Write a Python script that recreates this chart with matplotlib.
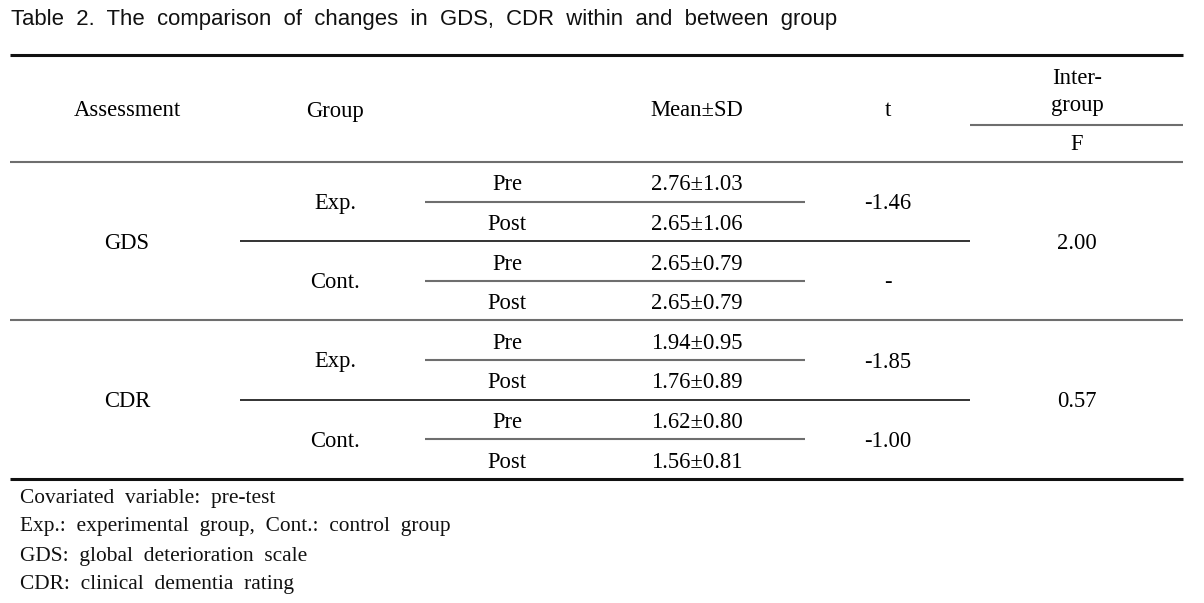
import matplotlib.pyplot as plt

# data
assessments = ["GDS", "CDR"]
groups = ["Exp.", "Cont."]
phases = ["Pre", "Post"]
means = [[2.76, 2.65, 2.65, 2.65], [1.94, 1.76, 1.62, 1.56]]
sds = [[1.03, 1.06, 0.79, 0.79], [0.95, 0.89, 0.80, 0.81]]
t_vals = [["-1.46", "-"], ["-1.85", "-1.00"]]
f_vals = ["2.00", "0.57"]
footnotes = [
    "Covariated  variable:  pre-test",
    "Exp.:  experimental  group,  Cont.:  control  group",
    "GDS:  global  deterioration  scale",
    "CDR:  clinical  dementia  rating",
]
title = "Table 2. The comparison of changes in GDS, CDR within and between group"

# layout (pixel coords)
W, H = 1204, 603
x_left, x_right = 10, 1183
col_assess, col_group, col_phase, col_mean, col_t, col_f = 127, 335, 507, 697, 888, 1077
top_y, head_y = 55, 162
row_h = 39.6

serif = "Liberation Serif"
fs = 16.3
dark = "#111111"
gray = "#6e6e6e"

fig = plt.figure(figsize=(W / 100, H / 100), dpi=100)
ax = fig.add_axes([0, 0, 1, 1])
ax.set_xlim(0, W)
ax.set_ylim(H, 0)
ax.axis("off")

ax.text(11, 20, title.replace(" ", "  "), family="Liberation Sans", fontsize=15.9,
        va="center", ha="left", color=dark)

# rules
ax.plot([x_left, x_right], [top_y, top_y], color=dark, lw=2.2, solid_capstyle="butt")
ax.plot([970, x_right], [125, 125], color=gray, lw=1.5, solid_capstyle="butt")
ax.plot([x_left, x_right], [head_y, head_y], color=gray, lw=1.5, solid_capstyle="butt")

# header
hy = 111
ax.text(col_assess, hy, "Assessment", family=serif, fontsize=fs, ha="center", va="center")
ax.text(col_group, hy, "Group", family=serif, fontsize=fs, ha="center", va="center")
ax.text(col_mean, hy, "Mean±SD", family=serif, fontsize=fs, ha="center", va="center")
ax.text(col_t, hy, "t", family=serif, fontsize=fs, ha="center", va="center")
ax.text(col_f, 78, "Inter-", family=serif, fontsize=fs, ha="center", va="center")
ax.text(col_f, 105, "group", family=serif, fontsize=fs, ha="center", va="center")
ax.text(col_f, 144, "F", family=serif, fontsize=fs, ha="center", va="center")

# body
for a, name in enumerate(assessments):
    y0 = head_y + a * 4 * row_h
    ax.text(col_assess, y0 + 2 * row_h + 2, name, family=serif, fontsize=fs, ha="center", va="center")
    ax.text(col_f, y0 + 2 * row_h + 2, f_vals[a], family=serif, fontsize=fs, ha="center", va="center")
    for g, grp in enumerate(groups):
        yg = y0 + g * 2 * row_h
        ax.text(col_group, yg + row_h + 2, grp, family=serif, fontsize=fs, ha="center", va="center")
        ax.text(col_t, yg + row_h + 2, t_vals[a][g], family=serif, fontsize=fs, ha="center", va="center")
        for p, ph in enumerate(phases):
            yr = yg + p * row_h + row_h / 2 + 3
            k = g * 2 + p
            ax.text(col_phase, yr, ph, family=serif, fontsize=fs, ha="center", va="center")
            ax.text(col_mean, yr, f"{means[a][k]:.2f}±{sds[a][k]:.2f}", family=serif,
                    fontsize=fs, ha="center", va="center")
        # pre/post separator
        ax.plot([425, 805], [yg + row_h, yg + row_h], color=gray, lw=1.5, solid_capstyle="butt")
    # exp/cont separator
    ax.plot([240, 970], [y0 + 2 * row_h, y0 + 2 * row_h], color=dark, lw=1.2, solid_capstyle="butt")
    yb = y0 + 4 * row_h
    if a < len(assessments) - 1:
        ax.plot([x_left, x_right], [yb, yb], color=gray, lw=1.5, solid_capstyle="butt")
    else:
        ax.plot([x_left, x_right], [yb, yb], color=dark, lw=2.2, solid_capstyle="butt")

# footnotes
for i, note in enumerate(footnotes):
    ax.text(20, 498 + i * 29, note, family=serif, fontsize=15.4, ha="left", va="center", color=dark)

fig.savefig("out.png", dpi=100)
